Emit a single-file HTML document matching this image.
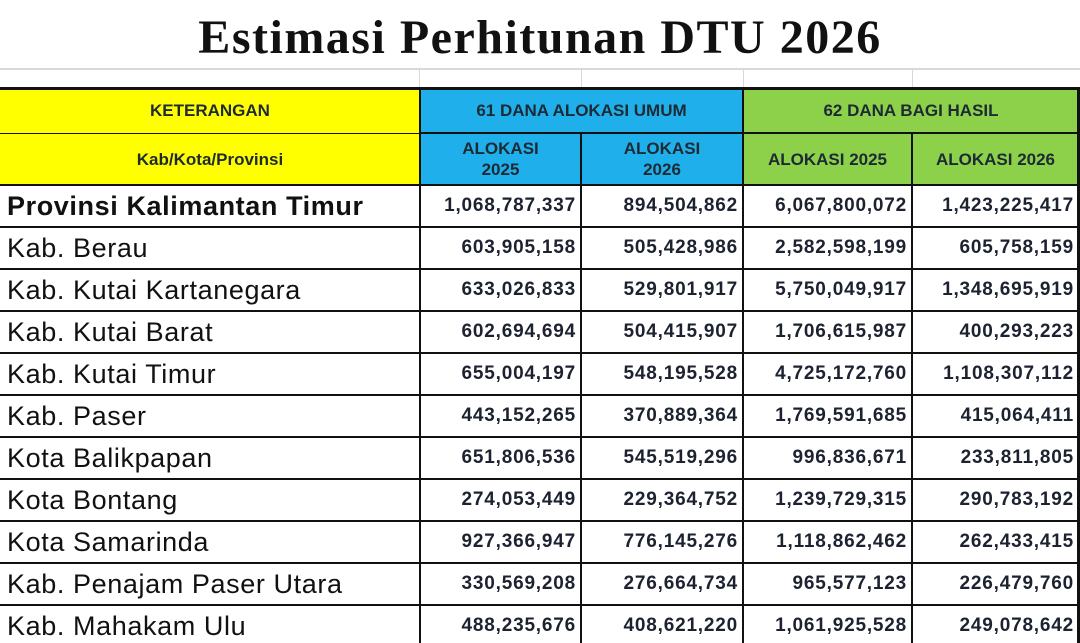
<!DOCTYPE html>
<html><head><meta charset="utf-8">
<style>
html,body{margin:0;width:1080px;height:643px;overflow:hidden;background:#fff;position:relative;font-family:"Liberation Sans","DejaVu Sans",sans-serif;}
.c{position:absolute;box-sizing:border-box;display:flex;align-items:center;overflow:hidden;white-space:nowrap;color:#1b1f2a;}
#title{position:absolute;left:0;top:0;width:1080px;height:68px;text-align:center;font-family:"Liberation Serif",serif;font-size:48px;font-weight:bold;line-height:76px;color:#111;letter-spacing:1.5px;}
.gl{position:absolute;background:#d8d8d8;}
.bl{position:absolute;background:#111;}
</style></head><body>
<div id="title">Estimasi Perhitunan DTU 2026</div>
<div class="gl" style="left:0;top:68px;width:1080px;height:2px"></div>
<div class="gl" style="left:419px;top:68px;width:1px;height:20px"></div>
<div class="gl" style="left:581px;top:68px;width:1px;height:20px"></div>
<div class="gl" style="left:743px;top:68px;width:1px;height:20px"></div>
<div class="gl" style="left:912px;top:68px;width:1px;height:20px"></div>
<div id="tbl"></div>
<script>
const names=["Provinsi Kalimantan Timur","Kab. Berau","Kab. Kutai Kartanegara","Kab. Kutai Barat","Kab. Kutai Timur","Kab. Paser","Kota Balikpapan","Kota Bontang","Kota Samarinda","Kab. Penajam Paser Utara","Kab. Mahakam Ulu"];
const dau2025=["1,068,787,337","603,905,158","633,026,833","602,694,694","655,004,197","443,152,265","651,806,536","274,053,449","927,366,947","330,569,208","488,235,676"];
const dau2026=["894,504,862","505,428,986","529,801,917","504,415,907","548,195,528","370,889,364","545,519,296","229,364,752","776,145,276","276,664,734","408,621,220"];
const dbh2025=["6,067,800,072","2,582,598,199","5,750,049,917","1,706,615,987","4,725,172,760","1,769,591,685","996,836,671","1,239,729,315","1,118,862,462","965,577,123","1,061,925,528"];
const dbh2026=["1,423,225,417","605,758,159","1,348,695,919","400,293,223","1,108,307,112","415,064,411","233,811,805","290,783,192","262,433,415","226,479,760","249,078,642"];
const X=[0,420,581,743,912,1079];
const T=document.getElementById('tbl');
function cell(x,y,w,h,txt,css,name){
  const d=document.createElement('div');d.className='c';
  d.style.cssText=`left:${x}px;top:${y}px;width:${w}px;height:${h}px;`+css;
  d.innerHTML=txt;
  
  
  T.appendChild(d);return d;
}
const B='#1fb0ec',G='#8dd14a';
const hb='font-weight:bold;font-size:17px;justify-content:center;text-align:center;line-height:21px;color:#1d2a33;';
cell(0,88,420,45,'KETERANGAN','background:#ffff00;'+hb,'header-keterangan');
cell(420,88,323,45,'61 DANA ALOKASI UMUM','background:'+B+';'+hb,'header-dau');
cell(743,88,336,45,'62 DANA BAGI HASIL','background:'+G+';'+hb,'header-dbh');
cell(0,133,420,52,'Kab/Kota/Provinsi','background:#ffff00;'+hb,'header-region');
cell(420,133,161,52,'ALOKASI<br>2025','background:'+B+';'+hb,'header-dau-2025');
cell(581,133,162,52,'ALOKASI<br>2026','background:'+B+';'+hb,'header-dau-2026');
cell(743,133,169,52,'ALOKASI 2025','background:'+G+';'+hb,'header-dbh-2025');
cell(912,133,167,52,'ALOKASI 2026','background:'+G+';'+hb,'header-dbh-2026');
const RH=42,Y0=185;
names.forEach((n,i)=>{
  const y=Y0+i*RH;
  const nm=i==0?'font-weight:bold;font-size:27px;letter-spacing:0.6px;':'font-size:27px;letter-spacing:0.6px;';
  cell(0,y,420,RH,n,'padding-left:7px;color:#111;'+nm,'region-name');
  const cols=[dau2025,dau2026,dbh2025,dbh2026];
  cols.forEach((arr,j)=>{
    cell(X[j+1],y,X[j+2]-X[j+1],RH,arr[i],'justify-content:flex-end;padding-right:5px;font-weight:bold;font-size:19px;letter-spacing:0.8px;color:#1d2230;','value-cell');
  });
});
function line(x,y,w,h){const d=document.createElement('div');d.className='bl';d.style.cssText=`left:${x}px;top:${y}px;width:${w}px;height:${h}px;`;


T.appendChild(d);}
line(0,87,1080,3);line(420,132,660,2);line(0,133,420,1);line(0,184,1080,2);
for(let i=1;i<=names.length;i++)line(0,Y0+i*RH-1,1080,2);
[420,581,743,912].forEach(x=>{const t=(x==581||x==912)?133:88;line(x-1,t,2,643-t);});
line(1077,88,3,555);
</script>
</body></html>
